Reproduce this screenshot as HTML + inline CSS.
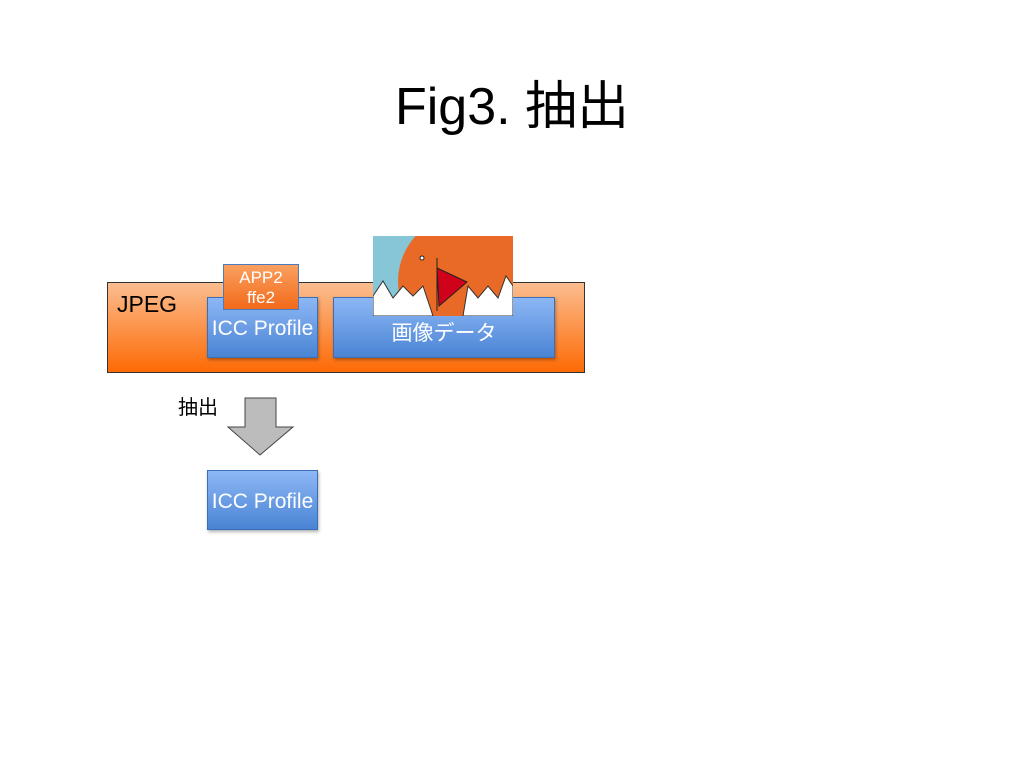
<!DOCTYPE html>
<html><head><meta charset="utf-8"><style>
body{margin:0;width:1024px;height:768px;background:#fff;position:relative;overflow:hidden;font-family:"Liberation Sans","Noto Sans CJK JP",sans-serif}
.a{position:absolute;box-sizing:border-box}
.blue{background:linear-gradient(#8db7f5,#4a84d4);border:1px solid #3a6fb8;color:#fff;font-size:21px;text-align:center;box-shadow:1px 2px 3px rgba(0,0,0,.3);white-space:nowrap}
</style></head><body>
<div class="a" style="left:0;top:64px;width:1024px;text-align:center;font-size:52px;font-family:'Liberation Sans','Noto Sans CJK JP',sans-serif">Fig3. 抽出</div>
<div class="a" style="left:107px;top:282px;width:478px;height:91px;background:linear-gradient(#fbbd8f,#fd6a05);border:1px solid #333"></div>
<div class="a" style="left:117px;top:291px;font-size:23px">JPEG</div>
<div class="a blue" style="left:207px;top:297px;width:111px;height:61px;padding-top:19px">ICC Profile</div>
<div class="a blue" style="left:333px;top:297px;width:222px;height:61px;padding-top:19px">画像データ</div>
<div class="a" style="left:223px;top:264px;width:76px;height:46px;background:linear-gradient(#f9a060,#f36a1a);border:1px solid #4a7ac0;color:#fff;font-size:17px;text-align:center;line-height:20px;padding-top:3px">APP2<br>ffe2</div>
<svg class="a" style="left:373px;top:236px" width="140" height="80" viewBox="0 0 140 80">
<rect width="140" height="80" fill="#86c6d6"/>
<ellipse cx="100" cy="45" rx="75" ry="70" fill="#e86a26"/>
<rect x="60" y="0" width="80" height="80" fill="#e86a26"/>
<polygon points="64,32 94,46 66,70" fill="#d0021b" stroke="#222"/>
<line x1="64" y1="22" x2="64" y2="75" stroke="#222"/>
<circle cx="49" cy="22" r="2" fill="#fff" stroke="#222"/>
<polygon points="0,80 0,60 10,45 20,62 30,50 40,60 50,50 60,80" fill="#fff" stroke="#333"/>
<polygon points="90,80 95,50 105,62 115,50 125,62 133,40 140,50 140,80" fill="#fff" stroke="#333"/>
</svg>
<div class="a" style="left:178px;top:391px;font-size:20px">抽出</div>
<svg class="a" style="left:226px;top:397px" width="70" height="60"><polygon points="19,1 50,1 50,30 67,30 34,58 2,30 19,30" fill="#bcbcbc" stroke="#444"/></svg>
<div class="a blue" style="left:207px;top:470px;width:111px;height:60px;padding-top:19px">ICC Profile</div>
</body></html>
